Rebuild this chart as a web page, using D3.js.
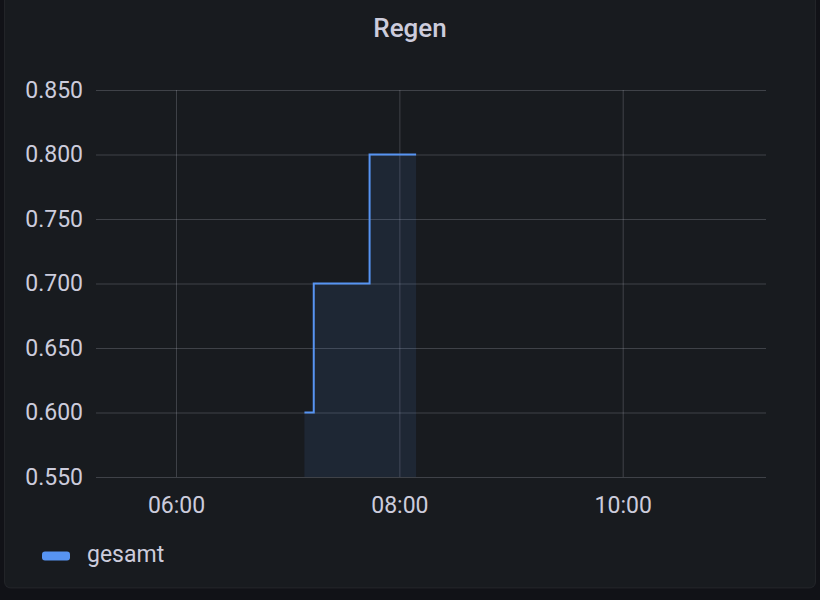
<!DOCTYPE html>
<html>
<head>
<meta charset="utf-8">
<script src="https://cdn.jsdelivr.net/npm/d3@7"></script>
<style>
  body { margin: 0; background: #111217; }
  svg { display: block; font-family: Roboto, Inter, sans-serif; }
</style>
</head>
<body>
<svg id="chart" width="820" height="600"></svg>
<script>
// Regen, series "gesamt" (step after)
const times = ["07:09", "07:14", "07:44", "08:09"];
const values = [0.6, 0.7, 0.8, 0.8];
const yTicks = [0.55, 0.6, 0.65, 0.7, 0.75, 0.8, 0.85];
const xTicks = ["06:00", "08:00", "10:00"];
const xDomain = ["05:17", "11:17"];
const seriesName = "gesamt";
const title = "Regen";

const parse = d3.timeParse("%H:%M");
const fmt = d3.timeFormat("%H:%M");

const width = 820, height = 600;
const margin = { top: 90, right: 54, bottom: 123, left: 96 };
const textColor = "#ccccdc";

const svg = d3.select("#chart");

// panel
svg.append("rect")
    .attr("x", 4.5).attr("y", -10)
    .attr("width", 811).attr("height", 598)
    .attr("rx", 6)
    .attr("fill", "#181b1f")
    .attr("stroke", "rgba(204,204,220,0.08)");

svg.append("text")
    .attr("x", width / 2).attr("y", 37)
    .attr("text-anchor", "middle")
    .attr("fill", textColor)
    .attr("font-size", 26).attr("font-weight", 500)
    .text(title);

const x = d3.scaleTime()
    .domain(xDomain.map(parse))
    .range([margin.left, width - margin.right]);

const y = d3.scaleLinear()
    .domain([0.55, 0.85])
    .range([height - margin.bottom, margin.top]);

const gridColor = "rgba(204,204,220,0.22)";

// horizontal grid + y labels
const yAxis = svg.append("g")
    .attr("transform", `translate(${margin.left},0)`)
    .call(d3.axisLeft(y).tickValues(yTicks).tickFormat(d3.format(".3f"))
        .tickSize(-(width - margin.left - margin.right)).tickPadding(13));
yAxis.select(".domain").remove();
yAxis.selectAll("line").attr("stroke", gridColor);
yAxis.selectAll("text").attr("fill", textColor).attr("font-size", 23)
    .attr("font-family", "Roboto, sans-serif");

// vertical grid + x labels
const xAxis = svg.append("g")
    .attr("transform", `translate(0,${height - margin.bottom})`)
    .call(d3.axisBottom(x).tickValues(xTicks.map(parse)).tickFormat(fmt)
        .tickSize(-(height - margin.top - margin.bottom)).tickPadding(20));
xAxis.select(".domain").remove();
xAxis.selectAll("line").attr("stroke", gridColor);
xAxis.selectAll("text").attr("fill", textColor).attr("font-size", 23)
    .attr("font-family", "Roboto, sans-serif");

const data = times.map((t, i) => ({ t: parse(t), v: values[i] }));

svg.append("path")
    .datum(data)
    .attr("fill", "rgba(87,148,242,0.1)")
    .attr("d", d3.area()
        .curve(d3.curveStepAfter)
        .x(d => x(d.t))
        .y0(y(0.55))
        .y1(d => y(d.v)));

svg.append("path")
    .datum(data)
    .attr("fill", "none")
    .attr("stroke", "#5794f2")
    .attr("stroke-width", 2)
    .attr("d", d3.line()
        .curve(d3.curveStepAfter)
        .x(d => x(d.t))
        .y(d => y(d.v)));

// legend
const legend = svg.append("g").attr("transform", "translate(42,556)");
legend.append("rect")
    .attr("x", 0).attr("y", -4.5)
    .attr("width", 28).attr("height", 9)
    .attr("rx", 3)
    .attr("fill", "#5794f2");
legend.append("text")
    .attr("x", 45).attr("y", -1)
    .attr("dy", "0.32em")
    .attr("fill", textColor)
    .attr("font-size", 23)
    .text(seriesName);
</script>
</body>
</html>
